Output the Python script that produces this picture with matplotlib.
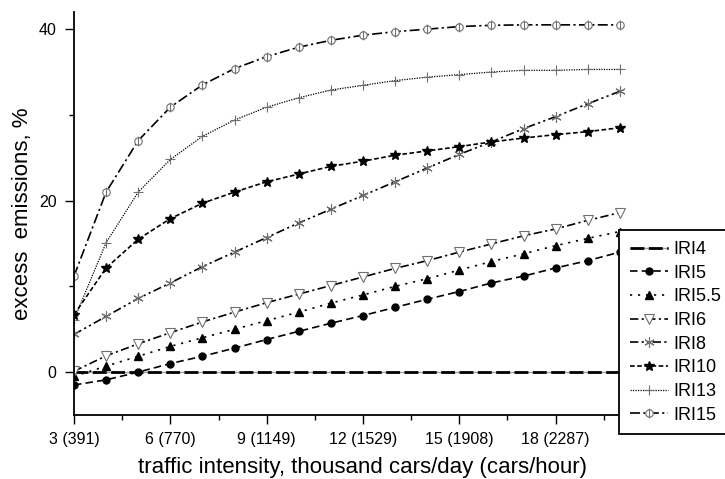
import numpy as np
import matplotlib
matplotlib.use("Agg")
import matplotlib.pyplot as plt
from matplotlib.path import Path

plt.rcParams['font.family'] = ['Liberation Sans', 'DejaVu Sans']

# =============================================================================
# DATA
# =============================================================================
traffic = [3, 4, 5, 6, 7, 8, 9, 10, 11, 12, 13, 14, 15, 16, 17, 18, 19, 20]
xtick_pos = [3, 6, 9, 12, 15, 18]
xtick_labels = ['3 (391)', '6 (770)', '9 (1149)', '12 (1529)', '15 (1908)', '18 (2287)']

iri4 = [0.0] * 18
iri5 = [-1.5, -0.9, 0.0, 1.0, 1.85, 2.8, 3.8, 4.76, 5.7, 6.6, 7.55, 8.5, 9.4, 10.4, 11.2, 12.15, 13.0, 14.0]
iri55 = [-0.5, 0.7, 1.85, 3.0, 4.0, 5.0, 6.0, 7.0, 8.05, 9.0, 10.0, 10.9, 11.9, 12.9, 13.8, 14.75, 15.6, 16.4]
iri6 = [0.1, 1.9, 3.3, 4.6, 5.85, 7.0, 8.1, 9.1, 10.1, 11.1, 12.1, 13.0, 14.0, 14.95, 15.9, 16.7, 17.7, 18.6]
iri8 = [4.4, 6.5, 8.6, 10.4, 12.3, 14.0, 15.7, 17.4, 19.0, 20.6, 22.2, 23.8, 25.4, 26.85, 28.4, 29.8, 31.3, 32.75]
iri10 = [6.7, 12.15, 15.5, 17.9, 19.7, 21.0, 22.2, 23.1, 24.0, 24.6, 25.3, 25.8, 26.3, 26.85, 27.3, 27.7, 28.05, 28.5]
iri13 = [6.1, 15.1, 21.0, 24.8, 27.5, 29.4, 30.9, 32.0, 32.9, 33.45, 34.0, 34.4, 34.7, 35.0, 35.2, 35.2, 35.3, 35.3]
iri15 = [11.2, 21.0, 27.0, 30.9, 33.5, 35.4, 36.8, 37.9, 38.7, 39.3, 39.7, 40.0, 40.3, 40.45, 40.5, 40.5, 40.5, 40.5]

# =============================================================================
# PLOT
# =============================================================================
GRAY = '#707070'
LW = 1.2

# circle with vertical bar marker
phi = Path.make_compound_path(Path.unit_circle(),
                              Path([(0, -1.3), (0, 1.3)], [Path.MOVETO, Path.LINETO]))

fig = plt.figure(figsize=(7.25, 4.79), dpi=100)
# axes runs to x=21, its right part sits under the legend
ax = fig.add_axes([74/725, 1-415/479, (652-74)/725, (415-12)/479])

# IRI4: long black dashes with gray in between
g, = ax.plot(traffic, iri4, color='#a0a0a0', lw=1.0)
b, = ax.plot(traffic, iri4, color='black', lw=2.0, dashes=(5, 1.6))

ax.plot(traffic, iri5, color='black', lw=LW, dashes=(4.5, 2.5),
        marker='o', ms=5, mfc='black', mec='black', label='IRI5')
ax.plot(traffic, iri55, color='black', lw=LW, dashes=(1.3, 3.5),
        marker='^', ms=5.5, mfc='black', mec='black', label='IRI5.5')
ax.plot(traffic, iri6, color='black', lw=LW, dashes=(5, 2, 1.3, 2),
        marker='v', ms=6.5, mfc='white', mec=GRAY, mew=0.8, label='IRI6')
ax.plot(traffic, iri8, color='black', lw=LW, dashes=(5, 2, 1.3, 2, 1.3, 2),
        marker=(6, 2, 0), ms=7.5, mec=GRAY, mew=0.8, label='IRI8')
ax.plot(traffic, iri10, color='black', lw=LW, dashes=(2.8, 1.5),
        marker='*', ms=7.5, mfc='black', mec='black', label='IRI10')
ax.plot(traffic, iri13, color='black', lw=0.9, dashes=(1, 1),
        marker='+', ms=7, mec=GRAY, mew=0.8, label='IRI13')
ax.plot(traffic, iri15, color='black', lw=LW, dashes=(6, 2, 1.3, 2),
        marker=phi, ms=7, mfc='white', mec=GRAY, mew=0.8, label='IRI15')

ax.set_xlim(3, 21)
ax.set_ylim(-5, 42)
ax.set_xticks(xtick_pos)
ax.set_xticklabels(xtick_labels)
ax.set_xticks(np.arange(4.5, 20, 3), minor=True)
ax.set_yticks([0, 20, 40])
ax.set_yticks([10, 30], minor=True)

for side in ['top', 'right']:
    ax.spines[side].set_visible(False)
for side in ['left', 'bottom']:
    ax.spines[side].set_linewidth(1.3)

ax.tick_params(which='major', direction='out', length=6.5, width=1.0, labelsize=11.5, pad=6)
ax.tick_params(which='minor', direction='out', length=3.5, width=1.0)

ax.set_xlabel('traffic intensity, thousand cars/day (cars/hour)', fontsize=16, labelpad=7)
ax.set_ylabel('excess  emissions, %', fontsize=16, labelpad=4)

handles, labels = ax.get_legend_handles_labels()
handles = [(g, b)] + handles
labels = ['IRI4'] + labels
leg = fig.legend(handles, labels, loc='upper left', bbox_to_anchor=(619/725, 1-230/479),
                 frameon=True, fancybox=False, edgecolor='black', framealpha=1,
                 fontsize=13, handlelength=2.1, handletextpad=0.3,
                 labelspacing=0.37, borderaxespad=0, borderpad=0.6)
leg.get_frame().set_linewidth(1.3)

fig.savefig('out.png', dpi=100)
